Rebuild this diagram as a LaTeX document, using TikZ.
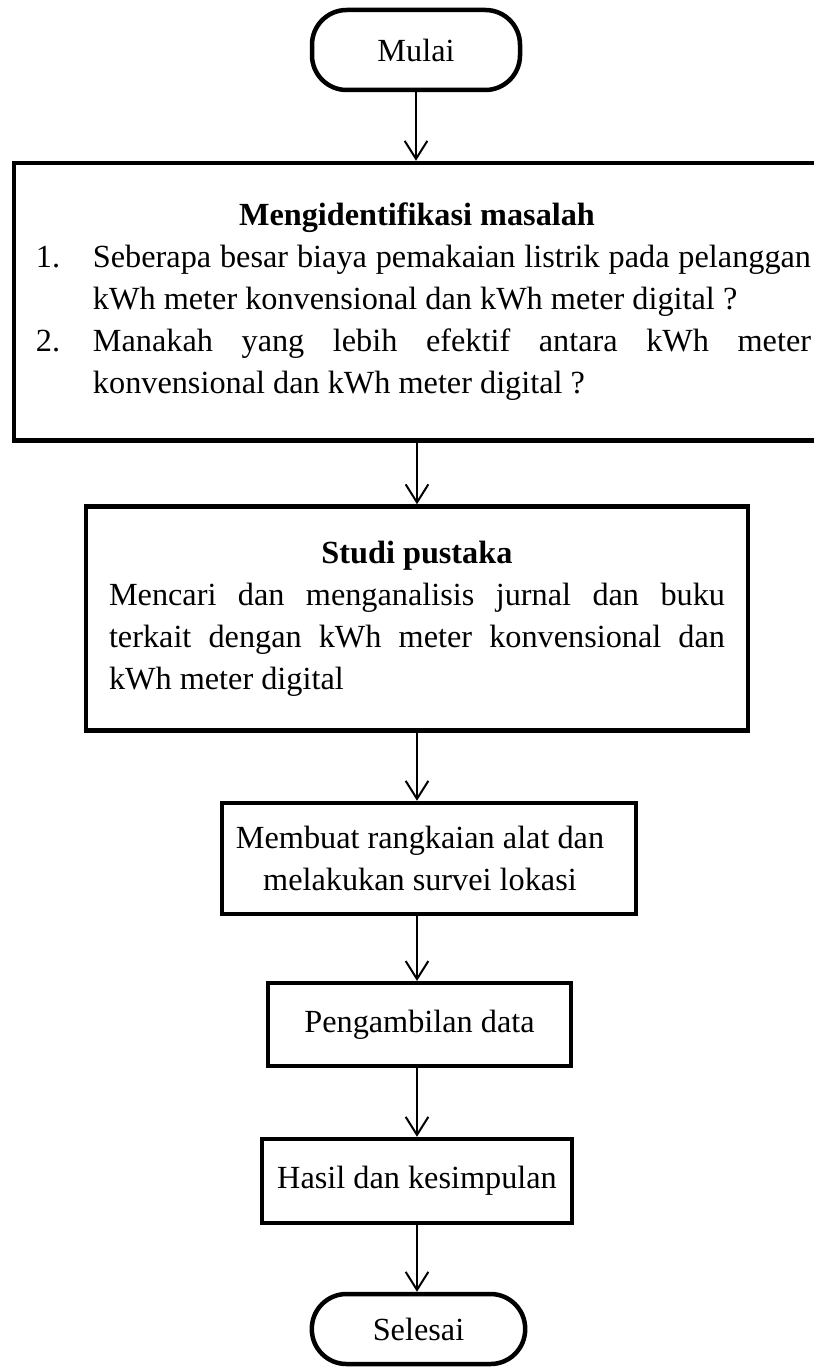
\documentclass[tikz,border=0pt]{standalone}
\usepackage{fontspec}
\setmainfont{Liberation Serif}
\usetikzlibrary{arrows.meta}
\begin{document}
\begin{tikzpicture}[x=0.75pt,y=-0.75pt,
  txt/.style={font=\fontsize{24.2}{31.5}\selectfont},
  box/.style={txt, draw, line width=3.375pt, rectangle, inner sep=0pt, align=center},
  term/.style={box, rounded corners=26pt},
  arr/.style={line width=1.5pt, -{Straight Barb[length=13.5pt,width=17pt,line width=1.5pt]}}]
\useasboundingbox (0,0) rectangle (813,1369);

\node[term, minimum width=156pt, minimum height=60pt] (mulai) at (416,50) {Mulai};

\node[box, minimum width=614.25pt, minimum height=208.1pt] (masalah) at (423.5,301.75)
{\parbox{581.25pt}{%
\makebox[581.25pt]{\bfseries Mengidentifikasi masalah\hspace*{9.75pt}}\\
\makebox[581.25pt][l]{\makebox[42.75pt][l]{1.}\makebox[538.5pt][s]{Seberapa besar biaya pemakaian listrik pada pelanggan}}\\
\makebox[581.25pt][l]{\hspace*{42.75pt}kWh meter konvensional dan kWh meter digital ?}\\
\makebox[581.25pt][l]{\makebox[42.75pt][l]{2.}\makebox[538.5pt][s]{Manakah yang lebih efektif antara kWh meter}}\\
\makebox[581.25pt][l]{\hspace*{42.75pt}konvensional dan kWh meter digital ?}}};

\node[box, minimum width=496.5pt, minimum height=168pt] (studi) at (417,618.5)
{\parbox{462pt}{%
\makebox[462pt]{\bfseries Studi pustaka}\\
\makebox[462pt][s]{Mencari dan menganalisis jurnal dan buku}\\
\makebox[462pt][s]{terkait dengan kWh meter konvensional dan}\\
\makebox[462pt][l]{kWh meter digital}}};

\node[box, minimum width=310.5pt, minimum height=83.25pt] (membuat) at (429,858.5)
{\parbox{280pt}{\centering Membuat rangkaian alat dan\\melakukan survei lokasi}\hspace*{13.5pt}};

\node[box, minimum width=227pt, minimum height=62pt] (ambil) at (419.5,1024.5) {Pengambilan data};

\node[box, minimum width=232.5pt, minimum height=63pt] (hasil) at (417,1181) {Hasil dan kesimpulan};

\node[term, minimum width=160pt, minimum height=52.5pt] (selesai) at (418.5,1329) {Selesai};

\draw[arr] (mulai.south) -- (mulai.south |- masalah.north);
\draw[arr] (studi.north |- masalah.south) -- (studi.north);
\draw[arr] (studi.south) -- (studi.south |- membuat.north);
\draw[arr] (studi.south |- membuat.south) -- (studi.south |- ambil.north);
\draw[arr] (studi.south |- ambil.south) -- (studi.south |- hasil.north);
\draw[arr] (hasil.south) -- (hasil.south |- selesai.north);
\end{tikzpicture}
\end{document}
